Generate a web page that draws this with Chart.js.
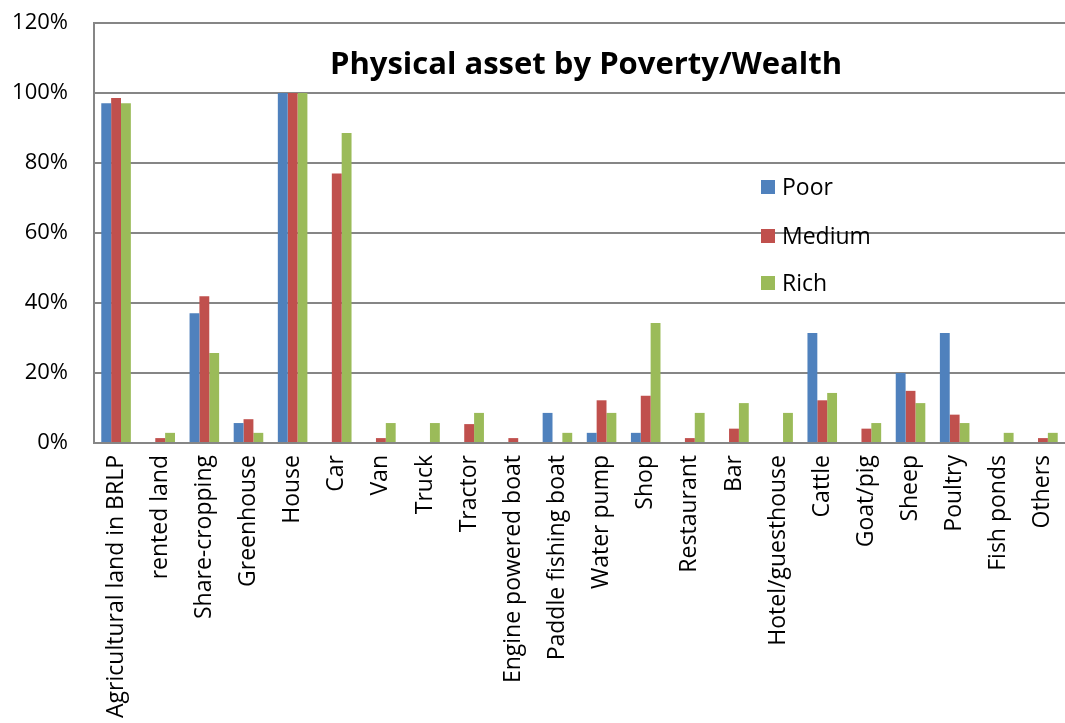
<!DOCTYPE html>
<html>
<head>
<meta charset="utf-8">
<script src="https://cdn.jsdelivr.net/npm/chart.js@4/dist/chart.umd.min.js"></script>
<style>
  html, body { margin: 0; padding: 0; background: #fff; }
  #wrap { width: 1065px; height: 723px; position: relative; }
</style>
</head>
<body>
<div id="wrap"><canvas id="chart" width="1065" height="723"></canvas></div>
<script>
// 카테고리 / 시리즈 값 (%)
const categories = [
    'Agricultural land in BRLP', 'rented land', 'Share-cropping', 'Greenhouse', 'House',
    'Car', 'Van', 'Truck', 'Tractor', 'Engine powered boat', 'Paddle fishing boat',
    'Water pump', 'Shop', 'Restaurant', 'Bar', 'Hotel/guesthouse', 'Cattle',
    'Goat/pig', 'Sheep', 'Poultry', 'Fish ponds', 'Others'
];
const poor   = [97.1, 0, 37.1, 5.7, 100, 0, 0, 0, 0, 0, 8.6, 2.9, 2.9, 0, 0, 0, 31.4, 0, 20.0, 31.4, 0, 0];
const medium = [98.6, 1.4, 41.9, 6.8, 100, 77.0, 1.4, 0, 5.4, 1.4, 0, 12.2, 13.5, 1.4, 4.1, 0, 12.2, 4.1, 14.9, 8.1, 0, 1.4];
const rich   = [97.1, 2.9, 25.7, 2.9, 100, 88.6, 5.7, 5.7, 8.6, 0, 2.9, 8.6, 34.3, 8.6, 11.4, 8.6, 14.3, 5.7, 11.4, 5.7, 2.9, 2.9];
const yTicks = [0, 20, 40, 60, 80, 100, 120];

const chartTitle = 'Physical asset by Poverty/Wealth';
const FONT = "'Open Sans', sans-serif";

// 차트 안에 제목과 범례 그리기 (Excel 오버레이 스타일)
const overlayPlugin = {
    id: 'overlay',
    afterDraw(chart) {
        const ctx = chart.ctx;
        ctx.save();
        ctx.fillStyle = '#000';
        ctx.font = 'bold 31px ' + FONT;
        ctx.textAlign = 'center';
        ctx.textBaseline = 'middle';
        ctx.fillText(chartTitle, 586, 65);

        ctx.font = '23px ' + FONT;
        ctx.textAlign = 'left';
        const rows = [187, 236, 283];
        chart.data.datasets.forEach((ds, i) => {
            ctx.fillStyle = ds.backgroundColor;
            ctx.fillRect(761, rows[i] - 7, 14, 14);
            ctx.fillStyle = '#000';
            ctx.fillText(ds.label, 782, rows[i] + 1);
        });
        ctx.restore();
    }
};

const ctx = document.getElementById('chart').getContext('2d');
new Chart(ctx, {
    type: 'bar',
    data: {
        labels: categories,
        datasets: [
            { label: 'Poor', data: poor, backgroundColor: '#4F81BD' },
            { label: 'Medium', data: medium, backgroundColor: '#C0504D' },
            { label: 'Rich', data: rich, backgroundColor: '#9BBB59' }
        ]
    },
    options: {
        responsive: false,
        animation: false,
        layout: { padding: { top: 23, right: -8, left: 0, bottom: 0 } },
        categoryPercentage: 0.67,
        barPercentage: 1.0,
        scales: {
            x: {
                afterFit: s => { s.height = 280; s.paddingRight = 0; },
                grid: { display: false, drawTicks: false },
                border: { color: '#868686', width: 2 },
                ticks: {
                    autoSkip: false,
                    minRotation: 90,
                    maxRotation: 90,
                    padding: 12,
                    color: '#000',
                    font: { family: FONT, size: 23 }
                }
            },
            y: {
                min: 0,
                max: 120,
                afterFit: s => { s.width = 94; s.paddingTop = 0; s.paddingBottom = 0; },
                afterBuildTicks: s => { s.ticks = yTicks.map(v => ({ value: v })); },
                grid: { color: '#868686', lineWidth: 2, drawTicks: false },
                border: { color: '#868686', width: 2 },
                ticks: {
                    padding: 26,
                    color: '#000',
                    font: { family: FONT, size: 22 },
                    callback: v => v + '%'
                }
            }
        },
        plugins: {
            legend: { display: false },
            title: { display: false },
            tooltip: { enabled: false }
        }
    },
    plugins: [overlayPlugin]
});
</script>
</body>
</html>
